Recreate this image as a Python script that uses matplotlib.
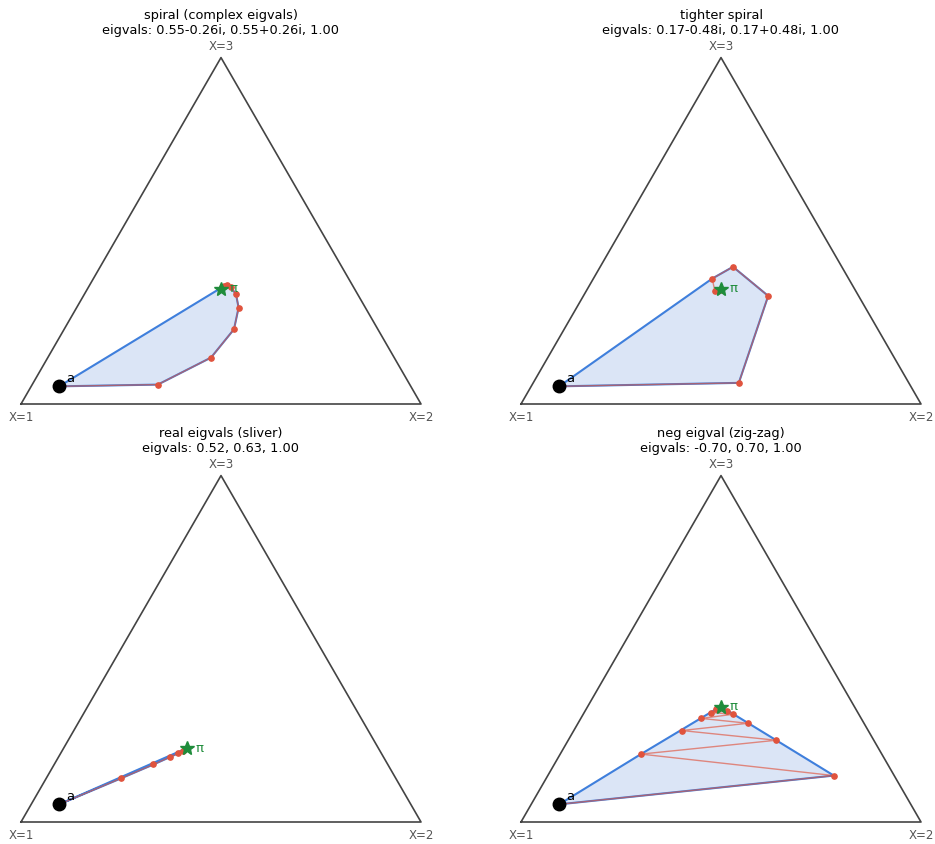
import matplotlib
matplotlib.use("Agg")
import matplotlib.pyplot as plt
import numpy as np

# trajectories on the simplex, each row = (p1, p2, p3)
start_a = (0.879, 0.070, 0.051)

traj_spiral = [
    (0.879, 0.070, 0.051),
    (0.630, 0.314, 0.056),
    (0.458, 0.408, 0.134),
    (0.360, 0.425, 0.216),
    (0.317, 0.405, 0.278),
    (0.304, 0.379, 0.317),
    (0.307, 0.356, 0.337),
    (0.314, 0.343, 0.343),
    (0.321, 0.338, 0.341),
    (0.328, 0.335, 0.337),
]
pi_spiral = (0.3333, 0.3333, 0.3333)

traj_tight = [
    (0.879, 0.070, 0.051),
    (0.425, 0.514, 0.061),
    (0.226, 0.462, 0.312),
    (0.272, 0.332, 0.396),
    (0.341, 0.297, 0.362),
    (0.352, 0.321, 0.327),
    (0.338, 0.333, 0.329),
]
pi_tight = (0.3333, 0.3333, 0.3333)

traj_sliver = [
    (0.879, 0.070, 0.051),
    (0.687, 0.187, 0.126),
    (0.586, 0.248, 0.166),
    (0.535, 0.278, 0.187),
    (0.509, 0.293, 0.198),
    (0.493, 0.302, 0.205),
]
pi_sliver = (0.479, 0.308, 0.213)

traj_zigzag = [
    (0.879, 0.070, 0.051),
    (0.151, 0.715, 0.134),
    (0.602, 0.202, 0.196),
    (0.244, 0.520, 0.236),
    (0.466, 0.270, 0.264),
    (0.290, 0.425, 0.285),
    (0.400, 0.301, 0.299),
    (0.314, 0.375, 0.311),
    (0.367, 0.317, 0.316),
    (0.324, 0.355, 0.321),
    (0.351, 0.324, 0.325),
]
pi_zigzag = (0.3333, 0.3333, 0.3333)

titles = [
    "spiral (complex eigvals)\neigvals: 0.55-0.26i, 0.55+0.26i, 1.00",
    "tighter spiral\neigvals: 0.17-0.48i, 0.17+0.48i, 1.00",
    "real eigvals (sliver)\neigvals: 0.52, 0.63, 1.00",
    "neg eigval (zig-zag)\neigvals: -0.70, 0.70, 1.00",
]
vertex_labels = ["X=1", "X=2", "X=3"]

H = np.sqrt(3) / 2
RED = "#e0533d"
BLUE = "#3f7fdc"
FILL = "#dbe5f6"
GREEN = "#1f8c3b"


def to_xy(p):
    p = np.atleast_2d(np.asarray(p, dtype=float))
    p = p / p.sum(axis=1, keepdims=True)
    return p[:, 1] + 0.5 * p[:, 2], H * p[:, 2]


def hull(pts):
    pts = sorted(set(map(tuple, pts)))
    def cross(o, a, b):
        return (a[0] - o[0]) * (b[1] - o[1]) - (a[1] - o[1]) * (b[0] - o[0])
    lower, upper = [], []
    for p in pts:
        while len(lower) >= 2 and cross(lower[-2], lower[-1], p) <= 0:
            lower.pop()
        lower.append(p)
    for p in reversed(pts):
        while len(upper) >= 2 and cross(upper[-2], upper[-1], p) <= 0:
            upper.pop()
        upper.append(p)
    return np.array(lower[:-1] + upper[:-1])


fig = plt.figure(figsize=(9.35, 8.44), dpi=100)
W, Hpx = 935.0, 844.0
boxes = [(21, 404), (521, 404), (21, 822), (521, 822)]  # bottom-left vertex in px
side = 400.0

data = [(traj_spiral, pi_spiral), (traj_tight, pi_tight),
        (traj_sliver, pi_sliver), (traj_zigzag, pi_zigzag)]

for k, ((traj, pi), (x0, y0)) in enumerate(zip(data, boxes)):
    ax = fig.add_axes([x0 / W, 1 - y0 / Hpx, side / W, side * H / Hpx])
    ax.set_xlim(0, 1)
    ax.set_ylim(0, H)
    ax.axis("off")

    # triangle
    vx, vy = to_xy(np.eye(3))
    ax.plot(np.r_[vx, vx[0]], np.r_[vy, vy[0]], color="#444444", lw=1.2, clip_on=False)
    ax.text(vx[0], vy[0] - 0.018, vertex_labels[0], ha="center", va="top",
            fontsize=8.5, color="#555555")
    ax.text(vx[1], vy[1] - 0.018, vertex_labels[1], ha="center", va="top",
            fontsize=8.5, color="#555555")
    ax.text(vx[2], vy[2] + 0.012, vertex_labels[2], ha="center", va="bottom",
            fontsize=8.5, color="#555555")

    tx, ty = to_xy(traj)
    px, py = to_xy(pi)
    h = hull(np.c_[np.r_[tx, px], np.r_[ty, py]])
    ax.fill(h[:, 0], h[:, 1], color=FILL, zorder=1, clip_on=False)
    ax.plot(np.r_[h[:, 0], h[0, 0]], np.r_[h[:, 1], h[0, 1]], color=BLUE,
            lw=1.5, zorder=2, clip_on=False)

    ax.plot(tx, ty, color=RED, lw=1.0, alpha=0.65, zorder=3, clip_on=False)
    ax.plot(tx[1:], ty[1:], "o", color=RED, ms=3.8, zorder=4, clip_on=False)

    ax_, ay_ = to_xy(start_a)
    ax.plot(ax_, ay_, "o", color="black", ms=9, zorder=5, clip_on=False)
    ax.text(ax_[0] + 0.017, ay_[0] + 0.01, "a", fontsize=9.5, zorder=6)

    ax.plot(px, py, "*", color=GREEN, ms=10, zorder=6, clip_on=False)
    ax.text(px[0] + 0.022, py[0], "π", fontsize=9.5, color=GREEN,
            va="center", zorder=6)

    ax.set_title(titles[k], fontsize=9.3, pad=17)

fig.savefig("out.png", dpi=100)
